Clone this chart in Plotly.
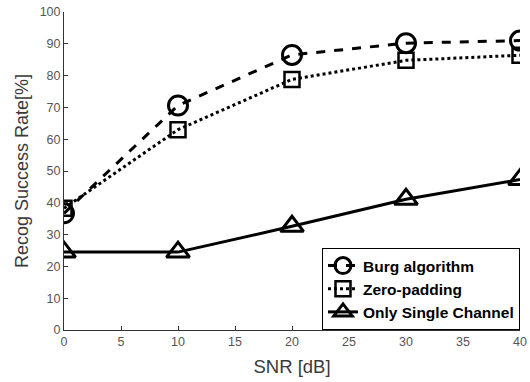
import plotly.graph_objects as go

snr = [0, 10, 20, 30, 40]
burg = [36.7, 70.6, 86.5, 90.2, 91.0]
zero_pad = [38.3, 63.0, 78.8, 84.8, 86.4]
single = [24.5, 24.5, 32.6, 41.1, 47.3]
series_names = ["Burg algorithm", "Zero-padding", "Only Single Channel"]

fig = go.Figure()
fig.add_trace(go.Scatter(x=snr, y=burg, name=series_names[0], mode="lines+markers",
                         line=dict(color="black", width=3, dash="dash"),
                         marker=dict(symbol="circle-open", size=19, color="black", line=dict(width=3))))
fig.add_trace(go.Scatter(x=snr, y=zero_pad, name=series_names[1], mode="lines+markers",
                         line=dict(color="black", width=3, dash="dot"),
                         marker=dict(symbol="square-open", size=15, color="black", line=dict(width=2.5))))
fig.add_trace(go.Scatter(x=snr, y=single, name=series_names[2], mode="lines+markers",
                         line=dict(color="black", width=3),
                         marker=dict(symbol="triangle-up-open", size=20, color="black", line=dict(width=3))))

fig.update_layout(
    width=530, height=382,
    margin=dict(l=64, r=10, t=12, b=52),
    paper_bgcolor="white", plot_bgcolor="white",
    font=dict(family="Liberation Sans, Arial, sans-serif", color="#555555"),
    showlegend=True,
    legend=dict(x=1, y=0, xanchor="right", yanchor="bottom",
                bordercolor="black", borderwidth=1, bgcolor="white",
                font=dict(size=15.5, color="black", family="Liberation Sans, Arial, sans-serif", weight="bold"),
                tracegroupgap=0, itemwidth=30),
    xaxis=dict(range=[0, 40], tickvals=[0, 5, 10, 15, 20, 25, 30, 35, 40],
               showline=True, linecolor="#333333", linewidth=1, mirror=False,
               ticks="inside", ticklen=4, tickcolor="#333333", showgrid=False, zeroline=False,
               tickfont=dict(size=12.5, color="#555555"), automargin=False,
               title=dict(text="SNR [dB]", font=dict(size=18.5, color="#3a3a3a"), standoff=12)),
    yaxis=dict(range=[0, 100], tickvals=list(range(0, 101, 10)),
               showline=True, linecolor="#333333", linewidth=1, mirror=False,
               ticks="inside", ticklen=4, tickcolor="#333333", showgrid=False, zeroline=False,
               tickfont=dict(size=12.5, color="#555555"), automargin=False,
               title=dict(text="Recog Success Rate[%]", font=dict(size=18, color="#3a3a3a"), standoff=6)),
)

fig.write_html("out.html")
